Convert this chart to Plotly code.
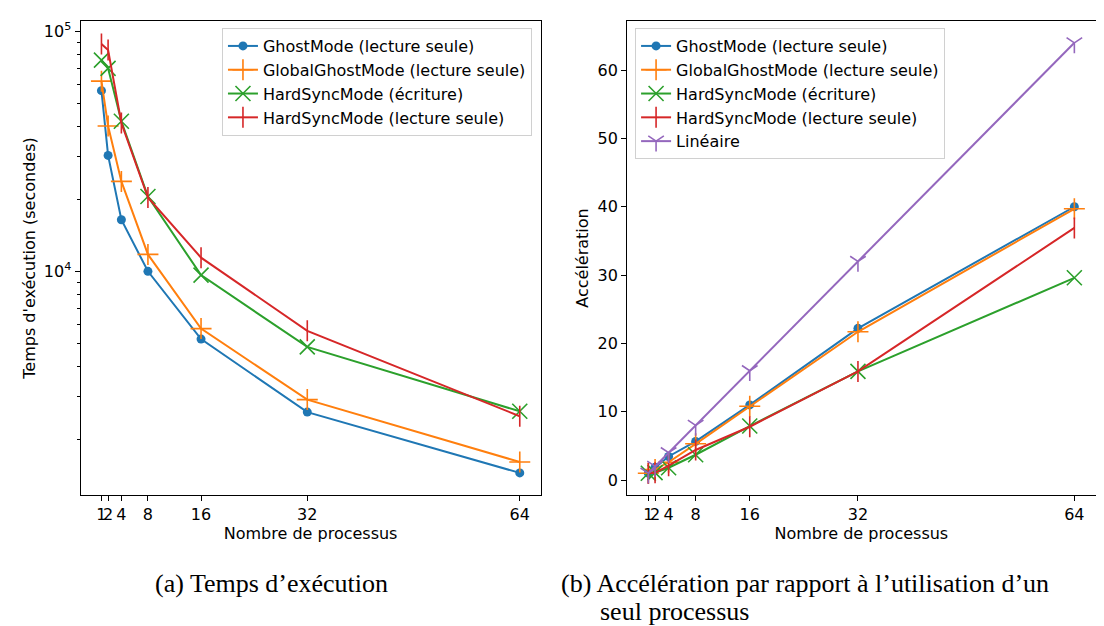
import plotly.graph_objects as go

# nombre de processus
procs = [1, 2, 4, 8, 16, 32, 64]

# temps d'execution (secondes) (a)
t_ghost = [56600, 30400, 16400, 10000, 5220, 2590, 1445]
t_global = [62000, 40300, 23700, 11760, 5770, 2920, 1605]
t_hard_w = [75900, 70100, 42200, 20500, 9640, 4840, 2610]
t_hard_r = [88600, 83600, 41500, 20300, 11400, 5650, 2490]

# acceleration (b)
s_ghost = [1.0, 1.86, 3.45, 5.65, 11.0, 22.2, 40.0]
s_global = [1.0, 1.54, 2.6, 5.3, 10.8, 21.7, 39.7]
s_hard_w = [1.0, 1.08, 1.8, 3.7, 7.9, 15.9, 29.6]
s_hard_r = [1.0, 1.06, 2.1, 4.4, 7.8, 15.9, 36.9]
s_lin = [1, 2, 4, 8, 16, 32, 64]

noms = ["GhostMode (lecture seule)", "GlobalGhostMode (lecture seule)",
        "HardSyncMode (écriture)", "HardSyncMode (lecture seule)", "Linéaire"]
couleurs = ["#1f77b4", "#ff7f0e", "#2ca02c", "#d62728", "#9467bd"]
symboles = ["circle", "cross-thin", "x-thin", "line-ns", "y-down"]
tailles = [9, 15, 15, 15, 13]

FONT = "DejaVu Sans"
FS = 16

fig = go.Figure()

def ajoute(y, i, xa, ya, leg):
    fig.add_trace(go.Scatter(
        x=procs, y=y, mode="lines+markers", name=noms[i],
        line=dict(color=couleurs[i], width=2),
        marker=dict(symbol=symboles[i], size=tailles[i], color=couleurs[i],
                    line=dict(color=couleurs[i], width=1.6 if i else 0)),
        xaxis=xa, yaxis=ya, legend=leg))

for i, t in enumerate([t_ghost, t_global, t_hard_w, t_hard_r]):
    ajoute(t, i, "x", "y", "legend")
for i, s in enumerate([s_ghost, s_global, s_hard_w, s_hard_r, s_lin]):
    ajoute(s, i, "x2", "y2", "legend2")

police = dict(family=FONT, size=FS, color="black")

axe_x = dict(range=[-2.15, 67.15], tickvals=procs, tickangle=0, ticks="outside",
             ticklen=5, tickcolor="black", showline=True, mirror=True,
             linecolor="black", linewidth=1, showgrid=False, zeroline=False,
             tickfont=police,
             title=dict(text="Nombre de processus", standoff=2, font=police))

mineurs = [k * 10 ** e for e in (3, 4) for k in range(2, 10)]

fig.update_layout(
    width=1104, height=626, margin=dict(l=0, r=0, t=0, b=0),
    plot_bgcolor="white", paper_bgcolor="white",
    font=police,
    xaxis=dict(axe_x, domain=[0.0657, 0.4825], anchor="y"),
    xaxis2=dict(axe_x, domain=[0.5607, 0.9852], anchor="y2"),
    yaxis=dict(type="log", range=[3.069, 5.042], domain=[0.2225, 0.9788], anchor="x",
               tickvals=[1e4, 1e5], ticktext=["10<sup>4</sup>", "10<sup>5</sup>"],
               ticks="outside", ticklen=5, tickcolor="black",
               minor=dict(tickvals=mineurs, ticks="outside", ticklen=3, tickcolor="black"),
               showline=True, mirror=True, linecolor="black", linewidth=1, showgrid=False,
               tickfont=police,
               title=dict(text="Temps d'exécution (secondes)", standoff=4, font=police)),
    yaxis2=dict(range=[-2.15, 67.15], domain=[0.2225, 0.9788], anchor="x2",
                tickvals=[0, 10, 20, 30, 40, 50, 60], ticks="outside", ticklen=5,
                tickcolor="black", showline=True, mirror=True, linecolor="black",
                linewidth=1, showgrid=False, zeroline=False,
                tickfont=police,
                title=dict(text="Accélération", standoff=4, font=police)),
    legend=dict(x=0.4746, y=0.968, xanchor="right", yanchor="top",
                bgcolor="rgba(255,255,255,0.85)", bordercolor="#d0d0d0", borderwidth=1,
                font=police),
    legend2=dict(x=0.568, y=0.968, xanchor="left", yanchor="top",
                 bgcolor="rgba(255,255,255,0.85)", bordercolor="#d0d0d0", borderwidth=1,
                 font=police),
)

# legendes des sous-figures
serif = dict(family="Liberation Serif", size=26, color="black")
legendes = [("(a) Temps d’exécution", 145, 575),
            ("(b) Accélération par rapport à l’utilisation d’un", 551, 575),
            ("seul processus", 590, 603)]
for txt, px, py in legendes:
    fig.add_annotation(text=txt, x=px / 1104, y=1 - py / 626, xref="paper",
                       yref="paper", xanchor="left", yanchor="middle",
                       showarrow=False, font=serif)

fig.write_html("out.html")
